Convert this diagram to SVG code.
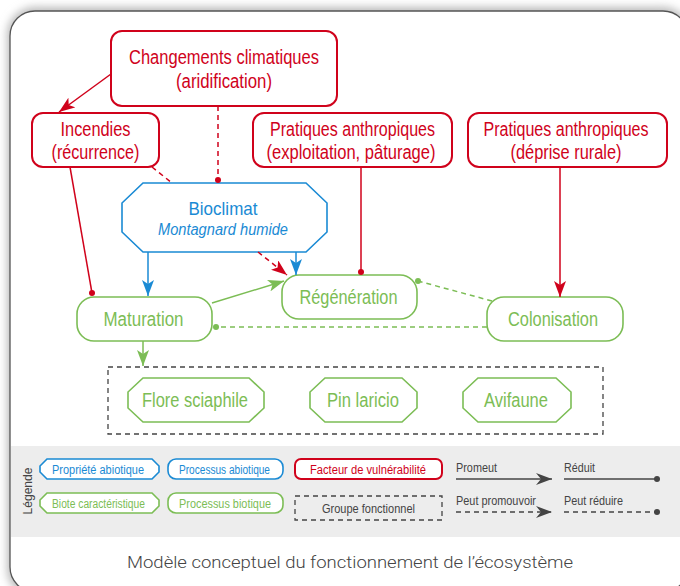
<svg xmlns="http://www.w3.org/2000/svg" width="680" height="586" viewBox="0 0 680 586">
<defs>
<filter id="sh" x="-5%" y="-5%" width="110%" height="110%"><feGaussianBlur stdDeviation="4"/></filter>
<marker id="aR" viewBox="0 0 16 12" refX="16" refY="6" markerWidth="16" markerHeight="12" markerUnits="userSpaceOnUse" orient="auto"><path d="M0,0 L16,6 L0,12 L4,6 z" fill="#d0021b"/></marker>
<marker id="aB" viewBox="0 0 16 12" refX="16" refY="6" markerWidth="16" markerHeight="12" markerUnits="userSpaceOnUse" orient="auto"><path d="M0,0 L16,6 L0,12 L4,6 z" fill="#1a8ad4"/></marker>
<marker id="aG" viewBox="0 0 16 12" refX="16" refY="6" markerWidth="16" markerHeight="12" markerUnits="userSpaceOnUse" orient="auto"><path d="M0,0 L16,6 L0,12 L4,6 z" fill="#7cbd55"/></marker>
<marker id="aK" viewBox="0 0 16 12" refX="16" refY="6" markerWidth="16" markerHeight="12" markerUnits="userSpaceOnUse" orient="auto"><path d="M0,0 L16,6 L0,12 L5,6 z" fill="#444"/></marker>
<marker id="dR" viewBox="0 0 6 6" refX="3" refY="3" markerWidth="6" markerHeight="6" markerUnits="userSpaceOnUse"><circle cx="3" cy="3" r="3" fill="#d0021b"/></marker>
<marker id="dG" viewBox="0 0 6 6" refX="3" refY="3" markerWidth="6" markerHeight="6" markerUnits="userSpaceOnUse"><circle cx="3" cy="3" r="3" fill="#7cbd55"/></marker>
<marker id="dK" viewBox="0 0 6 6" refX="3" refY="3" markerWidth="6" markerHeight="6" markerUnits="userSpaceOnUse"><circle cx="3" cy="3" r="3" fill="#444"/></marker>
</defs>
<style>
text{font-family:"Liberation Sans",Arial,sans-serif;text-anchor:middle}
.nr{fill:#fff;stroke:#d0021b;stroke-width:2}
.nb{fill:#fff;stroke:#1a8ad4;stroke-width:1.6}
.ng{fill:#fff;stroke:#7cbd55;stroke-width:1.6}
.tr{fill:#d0021b;font-size:19.5px}
.tb{fill:#1a8ad4}
.tg{fill:#7cbd55;font-size:19.5px}
.tl{font-size:12.5px}
.grp{fill:none;stroke:#444;stroke-width:1.3;stroke-dasharray:5,4}
.c{fill:none;stroke-width:1.5}
.r{stroke:#d0021b}.b{stroke:#1a8ad4}.g{stroke:#7cbd55}.k{stroke:#444}
.d{stroke-dasharray:5,4}
.ls{text-anchor:start;fill:#444;font-size:12.5px}
</style>
<rect x="0" y="0" width="680" height="586" fill="#fff"/>
<rect x="7" y="7" width="684" height="590" rx="28" fill="#bbb" filter="url(#sh)"/>
<rect x="10" y="11" width="678" height="581" rx="25" fill="#fff" stroke="#555" stroke-width="1.3"/>
<rect x="11" y="446" width="676" height="91" fill="#ededed"/>

<g id="changements"><rect class="nr" x="111" y="31" width="226" height="75" rx="11"/><text class="tr" x="224" y="64" textLength="190" lengthAdjust="spacingAndGlyphs">Changements climatiques</text><text class="tr" x="224" y="88" textLength="96" lengthAdjust="spacingAndGlyphs">(aridification)</text></g>
<g id="incendies"><rect class="nr" x="32" y="113" width="127" height="54" rx="11"/><text class="tr" x="95.5" y="136" textLength="70" lengthAdjust="spacingAndGlyphs">Incendies</text><text class="tr" x="95.5" y="159" textLength="88" lengthAdjust="spacingAndGlyphs">(récurrence)</text></g>
<g id="pratiques-exploitation"><rect class="nr" x="253" y="113" width="199" height="54" rx="11"/><text class="tr" x="352.5" y="136" textLength="165" lengthAdjust="spacingAndGlyphs">Pratiques anthropiques</text><text class="tr" x="351" y="159" textLength="169" lengthAdjust="spacingAndGlyphs">(exploitation, pâturage)</text></g>
<g id="pratiques-deprise"><rect class="nr" x="468" y="113" width="199" height="54" rx="11"/><text class="tr" x="566" y="136" textLength="165" lengthAdjust="spacingAndGlyphs">Pratiques anthropiques</text><text class="tr" x="566" y="159" textLength="111" lengthAdjust="spacingAndGlyphs">(déprise rurale)</text></g>
<g id="bioclimat"><polygon class="nb" points="143,183 306,183 327,203 327,232 306,252 143,252 122,232 122,203"/><text class="tb" x="223" y="215" font-size="18.5" textLength="69" lengthAdjust="spacingAndGlyphs">Bioclimat</text><text class="tb" x="223" y="235" font-size="16" font-style="italic" textLength="130" lengthAdjust="spacingAndGlyphs">Montagnard humide</text></g>
<g id="maturation"><rect class="ng" x="77" y="297" width="135" height="44" rx="17"/><text class="tg" x="143.5" y="326" textLength="80" lengthAdjust="spacingAndGlyphs">Maturation</text></g>
<g id="regeneration"><rect class="ng" x="282" y="275" width="135" height="44" rx="17"/><text class="tg" x="348.5" y="304" textLength="98" lengthAdjust="spacingAndGlyphs">Régénération</text></g>
<g id="colonisation"><rect class="ng" x="487" y="297" width="136" height="44" rx="17"/><text class="tg" x="553" y="326" textLength="90" lengthAdjust="spacingAndGlyphs">Colonisation</text></g>
<g id="groupe"><rect class="grp" x="108" y="367" width="495" height="67"/></g>
<g id="flore"><polygon class="ng" points="143,378 249,378 264,392 264,408 249,422 143,422 128,408 128,392"/><text class="tg" x="195" y="407" font-size="18.5" textLength="106" lengthAdjust="spacingAndGlyphs">Flore sciaphile</text></g>
<g id="pin"><polygon class="ng" points="325,378 402,378 417,392 417,408 402,422 325,422 310,408 310,392"/><text class="tg" x="363" y="407" font-size="18.5" textLength="72" lengthAdjust="spacingAndGlyphs">Pin laricio</text></g>
<g id="avifaune"><polygon class="ng" points="478,378 556,378 571,392 571,408 556,422 478,422 463,408 463,392"/><text class="tg" x="516" y="407" font-size="18.5" textLength="64" lengthAdjust="spacingAndGlyphs">Avifaune</text></g>

<g id="connectors">
<line class="c r" x1="111" y1="74" x2="59" y2="112" marker-end="url(#aR)"/>
<line class="c r d" x1="218" y1="106" x2="218" y2="180" marker-end="url(#dR)"/>
<line class="c r" x1="70" y1="167" x2="92" y2="293" marker-end="url(#dR)"/>
<line class="c r d" x1="152" y1="167" x2="172" y2="183"/>
<line class="c r d" x1="258" y1="252" x2="287" y2="275" marker-end="url(#aR)"/>
<line class="c b" x1="148" y1="252" x2="148" y2="296" marker-end="url(#aB)"/>
<line class="c b" x1="296" y1="252" x2="296" y2="275" marker-end="url(#aB)"/>
<line class="c r" x1="361" y1="167" x2="361" y2="272" marker-end="url(#dR)"/>
<line class="c r" x1="560" y1="167" x2="560" y2="297" marker-end="url(#aR)"/>
<line class="c g" x1="212" y1="303" x2="284" y2="281" marker-end="url(#aG)"/>
<line class="c g d" x1="492" y1="301" x2="418" y2="281" marker-end="url(#dG)"/>
<line class="c g d" x1="487" y1="327" x2="216" y2="327" marker-end="url(#dG)"/>
<line class="c g" x1="143" y1="341" x2="143" y2="366" marker-end="url(#aG)"/>
</g>

<g id="legende">
<text x="0" y="0" transform="translate(32,491) rotate(-90)" fill="#444" font-size="13" textLength="47" lengthAdjust="spacingAndGlyphs">Légende</text>
<g id="leg-propriete"><polygon class="nb" stroke-width="1.3" points="47,459 152,459 159,466 159,472 152,479 47,479 40,472 40,466"/><text class="tb tl" x="98" y="474" textLength="92" lengthAdjust="spacingAndGlyphs">Propriété abiotique</text></g>
<g id="leg-processus-abiotique"><rect class="nb" stroke-width="1.3" x="168" y="459" width="115" height="20" rx="8"/><text class="tb tl" x="224.5" y="474" textLength="91" lengthAdjust="spacingAndGlyphs">Processus abiotique</text></g>
<g id="leg-biote"><polygon class="ng" stroke-width="1.3" points="47,493 152,493 159,500 159,506 152,513 47,513 40,506 40,500"/><text class="tl" fill="#7cbd55" x="98.5" y="508" textLength="93" lengthAdjust="spacingAndGlyphs">Biote caractéristique</text></g>
<g id="leg-processus-biotique"><rect class="ng" stroke-width="1.3" x="168" y="493" width="115" height="20" rx="8"/><text class="tl" fill="#7cbd55" x="225" y="508" textLength="92" lengthAdjust="spacingAndGlyphs">Processus biotique</text></g>
<g id="leg-facteur"><rect class="nr" x="295" y="459" width="147" height="20" rx="6"/><text class="tl" fill="#d0021b" x="368" y="474" textLength="116" lengthAdjust="spacingAndGlyphs">Facteur de vulnérabilité</text></g>
<g id="leg-groupe"><rect class="grp" x="295" y="496" width="147" height="24"/><text class="tl" fill="#444" x="368.5" y="513" textLength="93" lengthAdjust="spacingAndGlyphs">Groupe fonctionnel</text></g>
<g id="leg-lines">
<text class="ls" x="456" y="472" textLength="41" lengthAdjust="spacingAndGlyphs">Promeut</text>
<line class="c k" x1="456" y1="479" x2="552" y2="479" marker-end="url(#aK)"/>
<text class="ls" x="564" y="472" textLength="31" lengthAdjust="spacingAndGlyphs">Réduit</text>
<line class="c k" x1="564" y1="479" x2="657" y2="479" marker-end="url(#dK)"/>
<text class="ls" x="456" y="505" textLength="80" lengthAdjust="spacingAndGlyphs">Peut promouvoir</text>
<line class="c k d" x1="456" y1="512" x2="552" y2="512" marker-end="url(#aK)"/>
<text class="ls" x="564" y="505" textLength="59" lengthAdjust="spacingAndGlyphs">Peut réduire</text>
<line class="c k d" x1="564" y1="512" x2="657" y2="512" marker-end="url(#dK)"/>
</g>
</g>
<text x="350" y="568" fill="#444" font-size="17" textLength="446" lengthAdjust="spacingAndGlyphs" style="font-family:Roboto,'Liberation Sans',sans-serif;font-weight:300">Modèle conceptuel du fonctionnement de l’écosystème</text>
</svg>
